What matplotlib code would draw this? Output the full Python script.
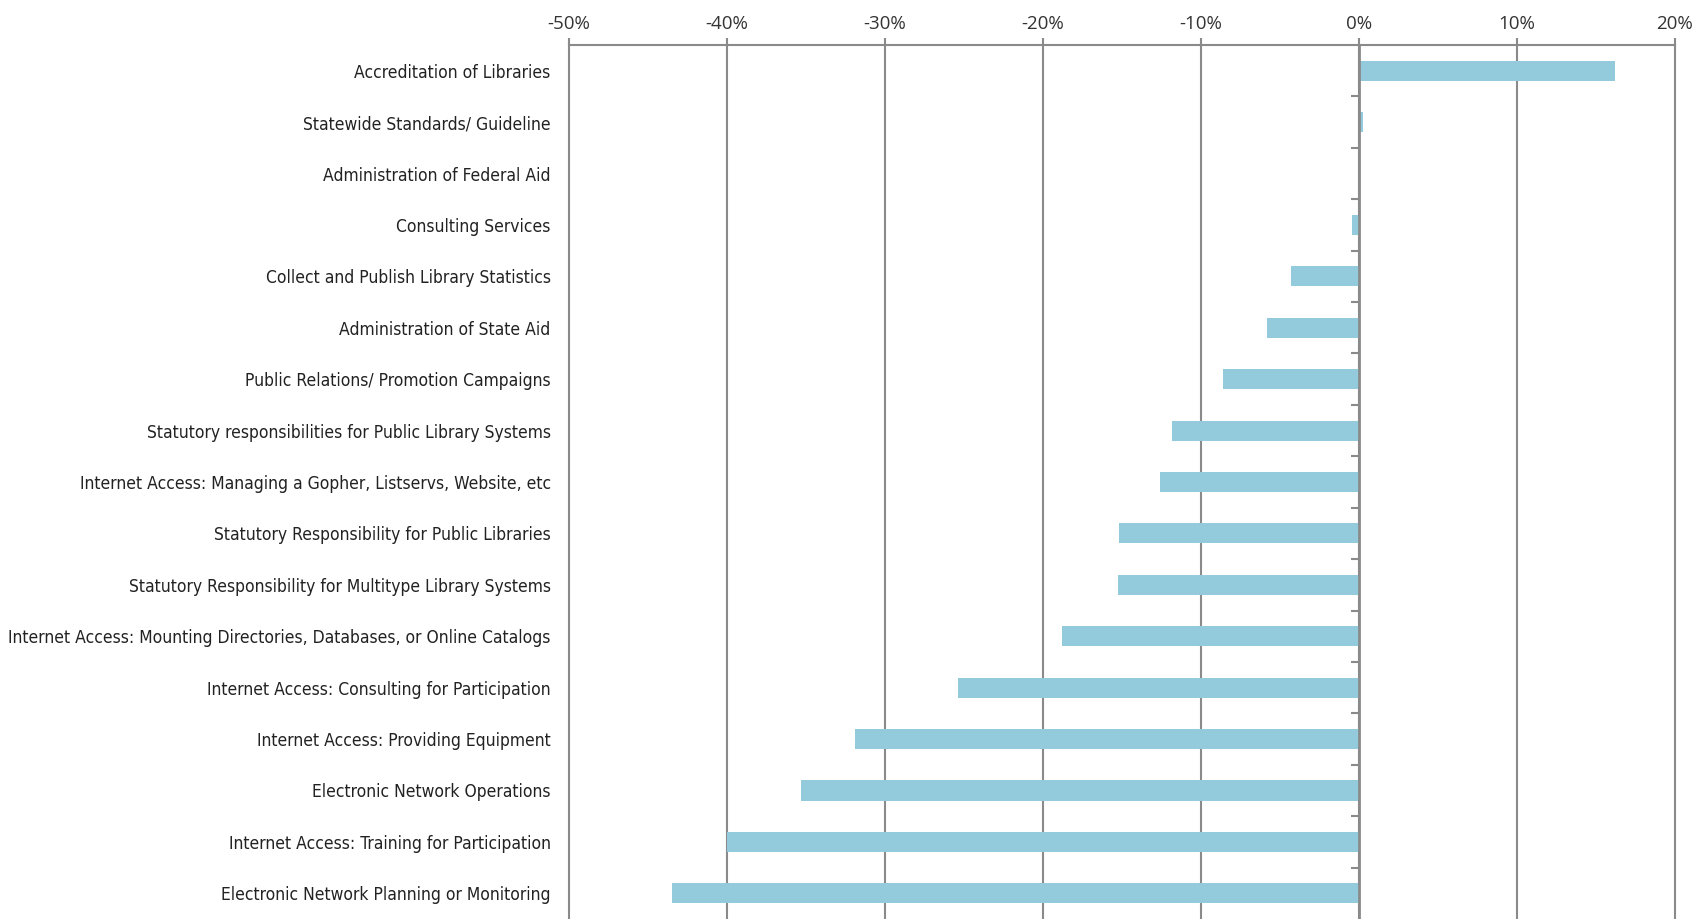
import matplotlib.pyplot as plt
import numpy as np
from matplotlib import font_manager
from matplotlib.ticker import FixedLocator, FuncFormatter
from matplotlib.textpath import TextPath
from matplotlib.font_manager import FontProperties

CATEGORIES = [
    "Accreditation of Libraries",
    "Statewide Standards/ Guideline",
    "Administration of Federal Aid",
    "Consulting Services",
    "Collect and Publish Library Statistics",
    "Administration of State Aid",
    "Public Relations/ Promotion Campaigns",
    "Statutory responsibilities for Public Library Systems",
    "Internet Access: Managing a Gopher, Listservs, Website, etc",
    "Statutory Responsibility for Public Libraries",
    "Statutory Responsibility for Multitype Library Systems",
    "Internet Access: Mounting Directories, Databases, or Online Catalogs",
    "Internet Access: Consulting for Participation",
    "Internet Access: Providing Equipment",
    "Electronic Network Operations",
    "Internet Access: Training for Participation",
    "Electronic Network Planning or Monitoring",
]
CHANGE_PCT = [16.2, 0.25, 0.0, -0.45, -4.3, -5.8, -8.6, -11.8, -12.6,
              -15.2, -15.25, -18.8, -25.4, -31.9, -35.3, -40.0, -43.5]
X_TICKS = [-50, -40, -30, -20, -10, 0, 10, 20]

BAR_COLOR = "#93cbdc"
GRID_COLOR = "#8a8a8a"

# look for a narrow face for the category labels (Arial Narrow look)
narrow = None
for f in font_manager.fontManager.ttflist:
    if any(k in f.name for k in ("Narrow", "Condensed")) or f.stretch in ("condensed", "semi-condensed", "extra-condensed"):
        if f.weight in (400, "normal", "regular") and f.style == "normal":
            narrow = f
            break
if narrow is not None:
    label_prop = FontProperties(fname=narrow.fname)
else:
    label_prop = FontProperties(family="Liberation Sans")

# size labels so the longest one is about as wide as in the original
longest = max(CATEGORIES, key=len)
w10 = TextPath((0, 0), longest, size=10, prop=label_prop).get_extents().width
label_size = min(16.5, 10 * 539 / (w10 * 100 / 72))
label_prop.set_size(label_size)

fig = plt.figure(figsize=(17.03, 9.19), dpi=100)
ax = fig.add_axes([0.334, 0.0, 0.6495, 0.951])

y = np.arange(len(CATEGORIES))
ax.barh(y, CHANGE_PCT, height=0.39, color=BAR_COLOR, zorder=3)

ax.set_xlim(-50, 20)
ax.set_ylim(len(CATEGORIES) - 0.5, -0.5)

ax.xaxis.set_major_locator(FixedLocator(X_TICKS))
ax.xaxis.set_major_formatter(FuncFormatter(lambda v, p: f"{v:.0f}%"))
ax.xaxis.tick_top()
ax.tick_params(axis="x", which="major", direction="out", length=5, width=1.5,
               color=GRID_COLOR, labelsize=13.5, labelcolor="#333333", pad=4)
for lab in ax.get_xticklabels():
    lab.set_fontfamily("Open Sans")
ax.grid(axis="x", color=GRID_COLOR, lw=1.5, zorder=1)
for gl in ax.get_xgridlines():
    gl.set_clip_on(False)

ax.set_yticks(y)
ax.set_yticklabels(CATEGORIES, fontproperties=label_prop, color="#222222")
ax.tick_params(axis="y", length=0, pad=13)

for side in ["left", "right", "bottom"]:
    ax.spines[side].set_visible(False)
ax.spines["top"].set_color(GRID_COLOR)
ax.spines["top"].set_linewidth(1.5)

# category axis sitting on the zero line
sec = ax.secondary_yaxis(0, transform=ax.transData)
sec.set_yticks([])
sec.yaxis.set_minor_locator(FixedLocator(np.arange(0.5, len(CATEGORIES) - 0.5, 1.0)))
sec.tick_params(axis="y", which="minor", direction="out", length=6, width=1.5, color=GRID_COLOR)
sec.tick_params(axis="y", which="major", length=0, labelleft=False)
sec.spines["left"].set_color(GRID_COLOR)
sec.spines["left"].set_linewidth(2)
sec.set_zorder(4)

fig.savefig("out.png", dpi=100, facecolor="white")
